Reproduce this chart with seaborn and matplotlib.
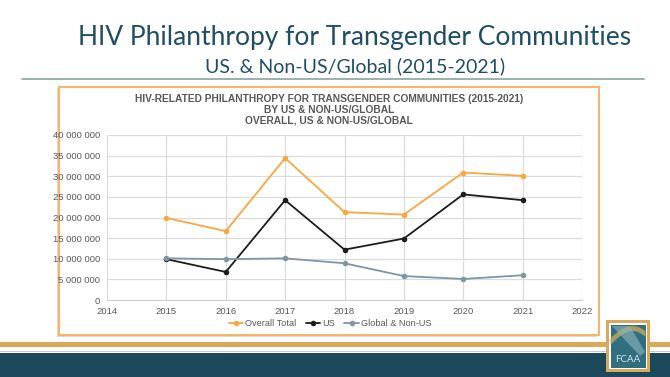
"""
HIV philanthropy for transgender communities - US vs Non-US/Global (2015-2021)
"""

import numpy as np
import pandas as pd
import matplotlib
matplotlib.use('Agg')
import matplotlib.pyplot as plt
import matplotlib.ticker as ticker
from matplotlib.patches import Rectangle
import seaborn as sns

# ---- data ----
years = [2015, 2016, 2017, 2018, 2019, 2020, 2021]
overall_total = [19900000, 16700000, 34400000, 21300000, 20700000, 30900000, 30100000]
us = [9900000, 6800000, 24200000, 12200000, 14900000, 25600000, 24200000]
global_non_us = [10100000, 9900000, 10100000, 8900000, 5800000, 5100000, 6000000]
series_names = ['Overall Total', 'US', 'Global & Non-US']
x_ticks = list(range(2014, 2023))
y_ticks = list(range(0, 40000001, 5000000))

COLORS = {'Overall Total': '#fba63f', 'US': '#1c1c1c', 'Global & Non-US': '#7d97a4'}
TEAL = '#1f4f63'
GRAY_TXT = '#595959'

df = pd.DataFrame({
    'year': years * 3,
    'value': overall_total + us + global_non_us,
    'series': [s for s in series_names for _ in years],
})

sns.set_style('white')
plt.rcParams['font.family'] = ['Liberation Sans', 'DejaVu Sans']

W, H = 670, 377
fig = plt.figure(figsize=(W / 100, H / 100), dpi=100)


def fx(x):
    return x / W


def fy(y):
    return 1 - y / H


# ---- slide decorations ----
fig.text(fx(355), fy(38), 'HIV Philanthropy for Transgender Communities',
         ha='center', va='center', fontsize=19, color=TEAL, family='Lato')
fig.text(fx(355), fy(66), 'US. & Non-US/Global (2015-2021)',
         ha='center', va='center', fontsize=14, color=TEAL, family='Lato')
fig.add_artist(plt.Line2D([fx(22), fx(644)], [fy(79), fy(79)], color='#93aba8', lw=1.3))

# chart frame with slight shadow
fig.add_artist(Rectangle((fx(57), fy(337)), fx(540), 249 / H, facecolor='#d8d8d8',
                         edgecolor='none', zorder=-3))
fig.add_artist(Rectangle((fx(59), fy(335)), fx(540), 248 / H, facecolor='white',
                         edgecolor='#fbb261', lw=1.4, zorder=-2))

# bottom bands
fig.add_artist(Rectangle((0, fy(347)), 1, 5 / H, facecolor='#dba85a', edgecolor='none'))
fig.add_artist(Rectangle((0, fy(352)), 1, 1 / H, facecolor='#c8c8c8', edgecolor='none'))
fig.add_artist(Rectangle((0, 0), 1, 24 / H, facecolor='#1c4a5c', edgecolor='none'))

# logo
fig.add_artist(Rectangle((fx(606), fy(372)), fx(44), 52 / H, facecolor='#dba85a',
                         edgecolor='none', zorder=3))
fig.add_artist(Rectangle((fx(609), fy(369)), fx(38), 46 / H, facecolor='white',
                         edgecolor='none', zorder=3))
fig.add_artist(Rectangle((fx(610.5), fy(367.5)), fx(35), 43 / H, facecolor='#2f6f80',
                         edgecolor='none', zorder=3))
t = np.linspace(0, 1, 30)
fig.add_artist(plt.Polygon(np.column_stack([fx(610.5 + 35 * t), fy(345 - 14 * np.sin(t * np.pi * 0.8))]).tolist()
                           + np.column_stack([fx(645.5 - 35 * t), fy(338 - 12 * np.sin((1 - t) * np.pi * 0.8))]).tolist(),
                           closed=True, facecolor='#b9a55e', edgecolor='none', alpha=0.85, zorder=3.1))
fig.add_artist(plt.Polygon([(fx(612), fy(326)), (fx(630), fy(326)), (fx(645), fy(352)), (fx(640), fy(356))],
                           closed=True, facecolor='#8fb6bd', edgecolor='none', alpha=0.6, zorder=3.1))
fig.text(fx(628), fy(360), 'FCAA', ha='center', va='center', fontsize=7, color='#d8e4e6',
         family='Lato', zorder=4)

# ---- chart ----
fig.text(fx(329), fy(99), 'HIV-RELATED PHILANTHROPY FOR TRANSGENDER COMMUNITIES (2015-2021)',
         ha='center', va='center', fontsize=7.4, fontweight='bold', color=GRAY_TXT)
fig.text(fx(329), fy(110), 'BY US & NON-US/GLOBAL',
         ha='center', va='center', fontsize=7.4, fontweight='bold', color=GRAY_TXT)
fig.text(fx(329), fy(121), 'OVERALL, US & NON-US/GLOBAL',
         ha='center', va='center', fontsize=7.4, fontweight='bold', color=GRAY_TXT)

ax = fig.add_axes([fx(107), fy(300), fx(582 - 107), (300 - 135) / H])
ax.set_zorder(1)
sns.lineplot(data=df, x='year', y='value', hue='series', hue_order=series_names,
             palette=COLORS, marker='o', markersize=4, markeredgewidth=0,
             linewidth=1.3, ax=ax, legend=True)

ax.set_xlim(2014, 2022)
ax.set_ylim(0, 40000000)
ax.set_xticks(x_ticks)
ax.set_yticks(y_ticks)
ax.yaxis.set_major_formatter(ticker.FuncFormatter(lambda v, p: f'{int(v):,}'.replace(',', ' ')))
ax.tick_params(axis='both', labelsize=6.8, colors=GRAY_TXT, length=0, pad=5)
ax.grid(True, color='#dcdcdc', lw=0.9)
ax.set_axisbelow(True)
for side in ['top', 'right', 'left']:
    ax.spines[side].set_visible(False)
ax.spines['bottom'].set_color('#cfcfcf')
ax.set_xlabel('')
ax.set_ylabel('')

handles, labels = ax.get_legend_handles_labels()
ax.legend(handles, labels, loc='center', bbox_to_anchor=(fx(330), fy(324)),
          bbox_transform=fig.transFigure, ncol=3, frameon=False, fontsize=6.6,
          handlelength=1.6, handletextpad=0.2, columnspacing=1.0, labelcolor=GRAY_TXT)

fig.savefig('out.png', dpi=100)
